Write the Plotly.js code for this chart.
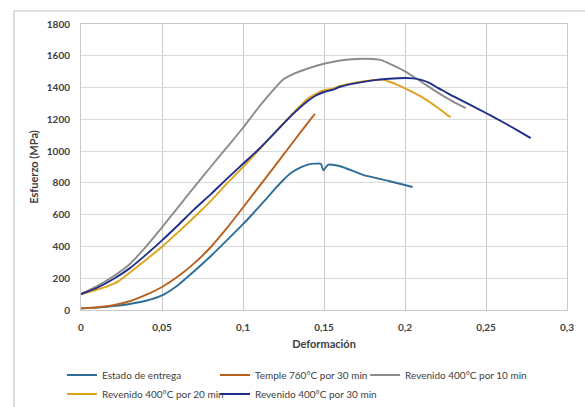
<!DOCTYPE html>
<html>
<head>
<meta charset="utf-8">
<script src="https://cdn.plot.ly/plotly-3.0.1.min.js"></script>
<style>html,body{margin:0;padding:0;background:#fff;}#chart{width:585px;height:407px;}</style>
</head>
<body>
<div id="chart"></div>
<script>
// Estado de entrega
const estadoX = [0, 0.01, 0.02, 0.03, 0.04, 0.05, 0.06, 0.07, 0.08, 0.09, 0.1, 0.11, 0.12, 0.125, 0.13, 0.135, 0.14, 0.145, 0.148, 0.1496, 0.1525, 0.16, 0.174, 0.19, 0.2047];
const estadoY = [10, 15, 25, 38, 58, 92, 158, 245, 338, 438, 540, 650, 765, 820, 865, 895, 915, 921, 920, 879, 914, 905, 851, 812, 774];
// Temple 760°C por 30 min
const templeX = [0, 0.01, 0.02, 0.03, 0.04, 0.05, 0.06, 0.07, 0.08, 0.09, 0.1, 0.11, 0.12, 0.13, 0.14, 0.1444];
const templeY = [10, 17, 30, 55, 95, 145, 212, 295, 395, 515, 645, 778, 910, 1045, 1178, 1235];
// Revenido 400°C por 10 min
const rev10X = [0, 0.01, 0.02, 0.03, 0.04, 0.05, 0.06, 0.07, 0.08, 0.09, 0.1, 0.11, 0.12, 0.125, 0.13, 0.14, 0.15, 0.16, 0.17, 0.18, 0.185, 0.19, 0.2, 0.21, 0.22, 0.23, 0.2375];
const rev10Y = [100, 150, 212, 288, 398, 520, 648, 775, 900, 1023, 1147, 1280, 1400, 1452, 1480, 1520, 1550, 1570, 1580, 1580, 1574, 1552, 1502, 1437, 1370, 1310, 1271];
// Revenido 400°C por 20 min
const rev20X = [0, 0.01, 0.02, 0.023, 0.03, 0.04, 0.05, 0.06, 0.07, 0.08, 0.09, 0.1, 0.11, 0.12, 0.13, 0.14, 0.145, 0.15, 0.155, 0.16, 0.17, 0.18, 0.186, 0.19, 0.195, 0.2, 0.21, 0.22, 0.226, 0.2282];
const rev20Y = [100, 128, 165, 180, 235, 315, 398, 490, 585, 685, 795, 900, 1010, 1120, 1230, 1330, 1360, 1383, 1392, 1410, 1432, 1446, 1450, 1438, 1418, 1395, 1343, 1275, 1228, 1213];
// Revenido 400°C por 30 min
const rev30X = [0, 0.01, 0.02, 0.03, 0.04, 0.05, 0.06, 0.07, 0.08, 0.09, 0.1, 0.11, 0.12, 0.13, 0.14, 0.145, 0.15, 0.155, 0.16, 0.17, 0.18, 0.19, 0.2, 0.205, 0.21, 0.215, 0.22, 0.225, 0.23, 0.24, 0.25, 0.26, 0.27, 0.2776];
const rev30Y = [100, 140, 195, 262, 347, 438, 535, 635, 728, 825, 920, 1015, 1120, 1225, 1315, 1350, 1372, 1385, 1405, 1428, 1445, 1455, 1460, 1458, 1448, 1430, 1400, 1372, 1344, 1292, 1240, 1185, 1127, 1082];

const seriesNames = ["Estado de entrega", "Temple 760°C por 30 min", "Revenido 400°C por 10 min", "Revenido 400°C por 20 min", "Revenido 400°C por 30 min"];
const xTickVals = [0, 0.05, 0.1, 0.15, 0.2, 0.25, 0.3];
const xTickText = ["0", "0,05", "0,1", "0,15", "0,2", "0,25", "0,3"];
const yTickVals = [0, 200, 400, 600, 800, 1000, 1200, 1400, 1600, 1800];
const yTickText = ["0", "200", "400", "600", "800", "1000", "1200", "1400", "1600", "1800"];

const colors = ["#2E6E96", "#B8601E", "#8C8C8C", "#DDA31C", "#1F2E88"];
const legendOf = ["legend", "legend2", "legend3", "legend", "legend2"];
const xs = [estadoX, templeX, rev10X, rev20X, rev30X];
const ys = [estadoY, templeY, rev10Y, rev20Y, rev30Y];

const traces = xs.map((x, i) => ({
  x: x, y: ys[i], type: "scatter", mode: "lines", name: seriesNames[i], legend: legendOf[i],
  line: {color: colors[i], width: 1.9, shape: "spline", smoothing: 0.6}
}));

const font = "Lato, 'Open Sans', sans-serif";
const legFont = {family: font, size: 10, color: "#404040"};
const legY = -0.1766;
const layout = {
  width: 585, height: 407,
  margin: {l: 81, r: 18, t: 24, b: 97, autoexpand: false},
  paper_bgcolor: "#fff", plot_bgcolor: "#fff",
  font: {family: font, size: 10, color: "#404040"},
  showlegend: true,
  legend: {orientation: "v", x: -0.0391, xanchor: "left", y: legY, yanchor: "top", font: legFont, traceorder: "normal", bgcolor: "rgba(0,0,0,0)"},
  legend2: {orientation: "v", x: 0.2757, xanchor: "left", y: legY, yanchor: "top", font: legFont, traceorder: "normal", bgcolor: "rgba(0,0,0,0)"},
  legend3: {orientation: "v", x: 0.5844, xanchor: "left", y: legY, yanchor: "top", font: legFont, traceorder: "normal", bgcolor: "rgba(0,0,0,0)"},
  xaxis: {range: [0, 0.3], tickvals: xTickVals, ticktext: xTickText, showgrid: true,
          gridcolor: "#c8c8c8", gridwidth: 1, zeroline: false, showline: true, linecolor: "#c8c8c8",
          mirror: true, ticks: "", tickfont: {family: font, size: 10, color: "#404040", weight: "bold"},
          ticklabelstandoff: 8,
          title: {text: "Deformación", font: {family: font, size: 11, color: "#404040", weight: "bold"}, standoff: 8}},
  yaxis: {range: [0, 1800], tickvals: yTickVals, ticktext: yTickText, showgrid: true,
          gridcolor: "#d9d9d9", gridwidth: 1, zeroline: false, showline: true, linecolor: "#c8c8c8",
          mirror: true, ticks: "", tickfont: {family: font, size: 10, color: "#404040", weight: "bold"},
          ticklabelstandoff: 8,
          title: {text: "Esfuerzo (MPa)", font: {family: font, size: 11, color: "#404040", weight: "bold"}, standoff: 5}},
  shapes: [{type: "rect", xref: "paper", yref: "paper", x0: -0.1379, x1: 1.2, y0: -0.5, y1: 1.0455,
            line: {color: "#bfbfbf", width: 1}, fillcolor: "rgba(0,0,0,0)", layer: "below"}]
};

Plotly.newPlot("chart", traces, layout, {displayModeBar: false, staticPlot: true});
</script>
</body>
</html>
